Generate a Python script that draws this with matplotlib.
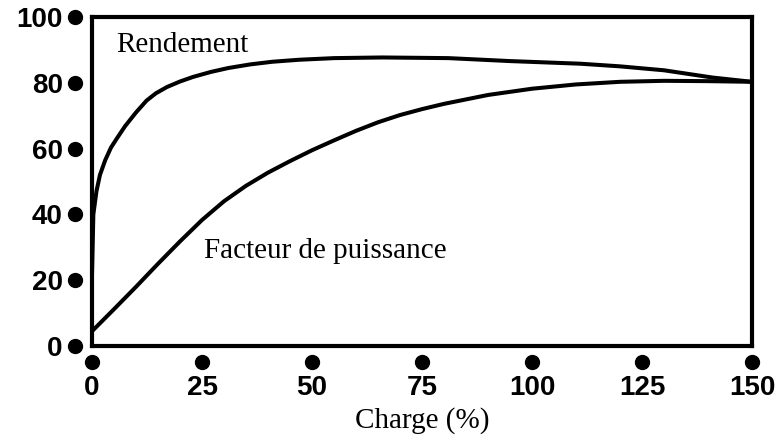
import matplotlib
matplotlib.use("Agg")
import matplotlib.pyplot as plt
import matplotlib.transforms as mtransforms

# Rendement (efficiency) and facteur de puissance vs charge (%)
charge_r = [0, 0.3, 1.0, 1.8, 3.0, 4.3, 5.6, 7.5, 10, 12.4, 14.5, 17, 20, 23, 27, 31, 36, 41, 47, 55,
            66, 81, 95, 111, 120, 130, 141, 150]
rendement = [22, 40, 47, 52, 56.5, 60.3, 63, 66.8, 71, 74.6, 76.8, 78.7, 80.4, 81.8, 83.3, 84.5, 85.6,
             86.4, 87.0, 87.5, 87.7, 87.5, 86.6, 85.8, 85.0, 83.8, 81.6, 80.3]

charge_pf = [0, 5, 10, 15, 20, 25, 30, 35, 40, 45, 50, 55, 60, 65, 70, 75, 80, 90, 100, 110, 120,
             130, 140, 150]
facteur = [4.5, 11.2, 18.0, 25.0, 31.8, 38.3, 44, 48.7, 52.7, 56.2, 59.5, 62.5, 65.4, 68, 70.2, 72,
           73.6, 76.3, 78.2, 79.5, 80.3, 80.6, 80.5, 80.3]

x_ticks = [0, 25, 50, 75, 100, 125, 150]
y_ticks = [0, 20, 40, 60, 80, 100]

fig = plt.figure(figsize=(7.78, 4.45), dpi=100)
ax = fig.add_axes([0.1183, 0.2225, 0.8483, 0.7393])

ax.plot(charge_r, rendement, color="black", linewidth=2.9, solid_capstyle="round",
        solid_joinstyle="round")
ax.plot(charge_pf, facteur, color="black", linewidth=2.9, solid_capstyle="round",
        solid_joinstyle="round")

ax.set_xlim(0, 150)
ax.set_ylim(0, 100)
for sp in ax.spines.values():
    sp.set_linewidth(3)

ax.set_xticks(x_ticks)
ax.set_yticks(y_ticks)
ax.tick_params(length=0)
ax.tick_params(axis="y", pad=21)
ax.tick_params(axis="x", pad=21)
for lab in ax.get_xticklabels() + ax.get_yticklabels():
    lab.set_fontfamily("Liberation Sans")
    lab.set_fontweight("bold")
    lab.set_fontsize(20)

# round tick dots outside the frame
xdot = mtransforms.blended_transform_factory(ax.transData, ax.transAxes) + \
    mtransforms.ScaledTranslation(0, -11.5 / 72, fig.dpi_scale_trans)
ax.plot(x_ticks, [0] * len(x_ticks), "o", color="black", markersize=10,
        transform=xdot, clip_on=False)
ydot = mtransforms.blended_transform_factory(ax.transAxes, ax.transData) + \
    mtransforms.ScaledTranslation(-12.5 / 72, 0, fig.dpi_scale_trans)
ax.plot([0] * len(y_ticks), y_ticks, "o", color="black", markersize=10,
        transform=ydot, clip_on=False)

ax.text(5.6, 91.5, "Rendement", fontfamily="Liberation Serif", fontsize=21, va="center")
ax.text(25.5, 29, "Facteur de puissance", fontfamily="Liberation Serif", fontsize=21, va="center")
ax.set_xlabel("Charge (%)", fontfamily="Liberation Serif", fontsize=21, labelpad=4)

fig.savefig("out.png", dpi=100)
